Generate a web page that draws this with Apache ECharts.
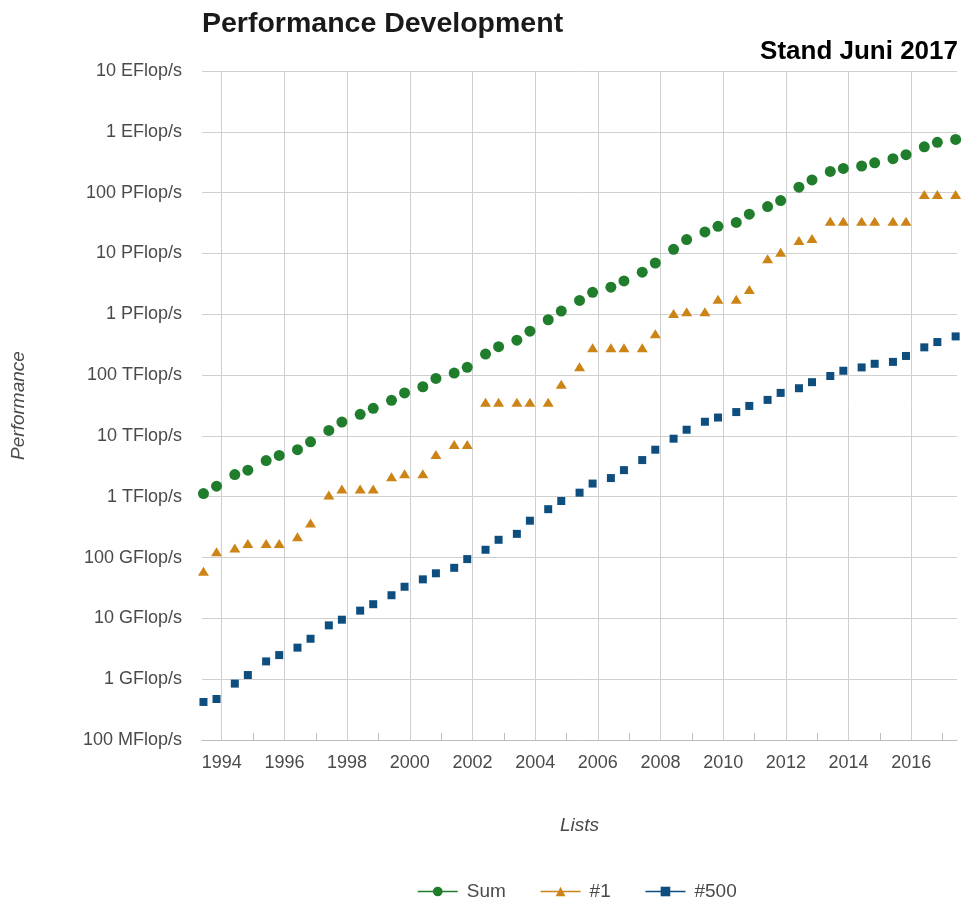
<!DOCTYPE html>
<html lang="en">
<head>
    <meta charset="UTF-8">
    <title>Performance Development</title>
    <script src="https://cdn.jsdelivr.net/npm/echarts@6/dist/echarts.min.js"></script>
    <style>
        * {
            margin: 0;
            padding: 0;
        }
        html, body {
            height: 100%;
            background: #fff;
        }
    </style>
</head>
<body>
<div id="main" style="width: 962px;height: 903px"></div>
<script>
    // TOP500 lists (June / November)
    var lists = ['1993-06', '1993-11', '1994-06', '1994-11', '1995-06', '1995-11', '1996-06', '1996-11',
        '1997-06', '1997-11', '1998-06', '1998-11', '1999-06', '1999-11', '2000-06', '2000-11',
        '2001-06', '2001-11', '2002-06', '2002-11', '2003-06', '2003-11', '2004-06', '2004-11',
        '2005-06', '2005-11', '2006-06', '2006-11', '2007-06', '2007-11', '2008-06', '2008-11',
        '2009-06', '2009-11', '2010-06', '2010-11', '2011-06', '2011-11', '2012-06', '2012-11',
        '2013-06', '2013-11', '2014-06', '2014-11', '2015-06', '2015-11', '2016-06', '2016-11',
        '2017-06'];

    // values in GFlop/s
    var sumPerf = [1129, 1493, 2317, 2732, 3936, 4780, 5938, 7985,
        12300, 16900, 22600, 28400, 38500, 50900, 64300, 88100,
        108000, 134000, 222000, 293000, 375000, 528000, 813000, 1127000,
        1690000, 2300000, 2790000, 3530000, 4920000, 6970000, 11700000, 16950000,
        22600000, 27950000, 32400000, 44200000, 58900000, 74200000, 123000000, 162000000,
        223000000, 250000000, 274000000, 309000000, 361000000, 420000000, 566000000, 672000000,
        749000000];

    var firstPerf = [59.7, 124.5, 143.4, 170, 170, 170, 220.4, 368.2,
        1068, 1338, 1338, 1338, 2121, 2379, 2379, 4938,
        7226, 7226, 35860, 35860, 35860, 35860, 35860, 70720,
        136800, 280600, 280600, 280600, 280600, 478200, 1026000, 1105000,
        1105000, 1759000, 1759000, 2566000, 8162000, 10510000, 16320000, 17590000,
        33860000, 33860000, 33860000, 33860000, 33860000, 33860000, 93010000, 93010000,
        93010000];

    var lastPerf = [0.422, 0.472, 0.845, 1.17, 1.96, 2.49, 3.30, 4.62,
        7.67, 9.51, 13.4, 17.1, 24.0, 33.1, 43.8, 55.1,
        67.8, 94.3, 134.3, 195.8, 245.1, 403.4, 624, 850.6,
        1166, 1646, 2026, 2736, 4005, 5929, 9000, 12640,
        17090, 20050, 24670, 31120, 39090, 50940, 60820, 76500,
        96620, 117800, 133700, 153400, 164800, 206300, 285900, 349300,
        432200];

    var yTickLabels = ['100 MFlop/s', '1 GFlop/s', '10 GFlop/s', '100 GFlop/s', '1 TFlop/s', '10 TFlop/s',
        '100 TFlop/s', '1 PFlop/s', '10 PFlop/s', '100 PFlop/s', '1 EFlop/s', '10 EFlop/s'];
    var yearLabels = [1994, 1996, 1998, 2000, 2002, 2004, 2006, 2008, 2010, 2012, 2014, 2016];
    var oddYears = [1995, 1997, 1999, 2001, 2003, 2005, 2007, 2009, 2011, 2013, 2015, 2017];

    var font = 'Liberation Sans, Arial, sans-serif';
    var textColor = '#4a4a4a';

    function listToYear(s) {
        var p = s.split('-');
        return Number(p[0]) + (Number(p[1]) - 1) / 12;
    }

    function pairs(values) {
        return lists.map(function (l, i) {
            return [listToYear(l), values[i]];
        });
    }

    var myChart = echarts.init(document.getElementById('main'));

    var option = {
        animation: false,
        backgroundColor: '#fff',
        title: [{
            text: 'Performance Development',
            left: 202,
            top: 10,
            padding: 0,
            textStyle: {fontFamily: font, fontSize: 28.5, fontWeight: 'bold', color: '#1a1a1a'}
        }, {
            text: 'Stand Juni 2017',
            right: 4,
            top: 39,
            padding: 0,
            textStyle: {fontFamily: font, fontSize: 26, fontWeight: 'bold', color: '#000'}
        }],
        legend: {
            top: 877,
            left: 412,
            itemWidth: 40,
            itemHeight: 12,
            itemGap: 34,
            lineStyle: {opacity: 1, width: 1.5},
            textStyle: {fontFamily: font, fontSize: 19, color: textColor, padding: [0, 0, 0, 4]},
            data: ['Sum', '#1', '#500']
        },
        grid: {
            left: 202,
            right: 5,
            top: 71,
            bottom: 163
        },
        xAxis: [{
            type: 'value',
            position: 'bottom',
            min: 1993.37,
            max: 2017.46,
            name: 'Lists',
            nameLocation: 'middle',
            nameGap: 76,
            nameTextStyle: {fontFamily: font, fontSize: 19, fontStyle: 'italic', color: textColor},
            axisLine: {lineStyle: {color: '#bdbdbd', width: 1}},
            axisTick: {show: false, customValues: yearLabels},
            axisLabel: {
                customValues: yearLabels,
                margin: 14,
                fontFamily: font,
                fontSize: 18,
                color: textColor,
                formatter: function (v) {
                    return String(Math.round(v));
                }
            },
            splitLine: {show: true, lineStyle: {color: '#cfcfcf', width: 1}}
        }, {
            type: 'value',
            position: 'bottom',
            min: 1993.37,
            max: 2017.46,
            axisLine: {show: false},
            axisTick: {show: true, inside: true, length: 7, customValues: oddYears, lineStyle: {color: '#bdbdbd'}},
            axisLabel: {show: false},
            splitLine: {show: false}
        }],
        yAxis: {
            type: 'log',
            logBase: 10,
            min: 0.1,
            max: 1e10,
            interval: 1,
            name: 'Performance',
            nameLocation: 'middle',
            nameRotate: 90,
            nameGap: 174,
            nameTextStyle: {fontFamily: font, fontSize: 19, fontStyle: 'italic', color: textColor},
            axisLine: {show: false},
            axisTick: {show: false},
            axisLabel: {
                margin: 20,
                fontFamily: font,
                fontSize: 18,
                color: textColor,
                formatter: function (v) {
                    return yTickLabels[Math.round(Math.log10(v)) + 1];
                }
            },
            splitLine: {show: true, lineStyle: {color: '#cfcfcf', width: 1}}
        },
        series: [{
            name: 'Sum',
            type: 'line',
            xAxisIndex: 0,
            data: pairs(sumPerf),
            symbol: 'circle',
            symbolSize: 11,
            showAllSymbol: true,
            lineStyle: {opacity: 0},
            itemStyle: {color: '#1f7d2c'}
        }, {
            name: '#1',
            type: 'line',
            xAxisIndex: 0,
            data: pairs(firstPerf),
            symbol: 'triangle',
            symbolSize: [11, 9],
            showAllSymbol: true,
            lineStyle: {opacity: 0},
            itemStyle: {color: '#cc8417'}
        }, {
            name: '#500',
            type: 'line',
            xAxisIndex: 0,
            data: pairs(lastPerf),
            symbol: 'rect',
            symbolSize: 8,
            showAllSymbol: true,
            lineStyle: {opacity: 0},
            itemStyle: {color: '#0d4e7f'}
        }]
    };

    myChart.setOption(option);
</script>
</body>
</html>
